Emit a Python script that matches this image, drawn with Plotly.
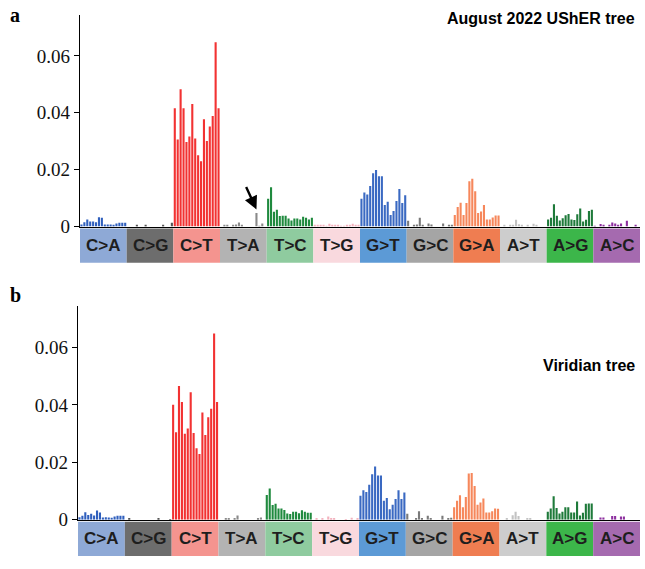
import plotly.graph_objects as go

mut_types = ["C>A", "C>G", "C>T", "T>A", "T>C", "T>G", "G>T", "G>C", "G>A", "A>T", "A>G", "A>C"]
bar_colors = ["#2f5fbd", "#555555", "#f23232", "#8a8a8a", "#1f8a3e", "#f3b1bd",
              "#3a69c2", "#7a7a7a", "#f6875b", "#c2c2c2", "#1e7a3a", "#8d2f9f"]
strip_colors = ["#8ea9d6", "#6d6d6d", "#f4948f", "#b3b3b3", "#8fcb9f", "#f9d9de",
                "#5c9ad6", "#a5a5a5", "#ef7d51", "#cdcdcd", "#3cb64a", "#a56aaf"]
y_tickvals = [0, 0.02, 0.04, 0.06]
y_ticktext = ["0", "0.02", "0.04", "0.06"]

# Panel a: August 2022 UShER tree (16 contexts per mutation type)
usher_CA = [0.0007, 0.0015, 0.0025, 0.0018, 0.0018, 0.0015, 0.0033, 0.0031, 0.0007, 0.0007, 0.0007, 0.0005, 0.0011, 0.0013, 0.0013, 0.0013]
usher_CG = [0, 0, 0, 0.0003, 0, 0, 0.0005, 0, 0, 0, 0, 0, 0.0005, 0, 0, 0.0013]
usher_CT = [0.0416, 0.0306, 0.0483, 0.0416, 0.0297, 0.0317, 0.0431, 0.0310, 0.0251, 0.0230, 0.0377, 0.0301, 0.0352, 0.0389, 0.0648, 0.0416]
usher_TA = [0, 0.0003, 0.0004, 0, 0.0006, 0.0007, 0.0014, 0.0004, 0, 0, 0, 0, 0.0048, 0.0002, 0.0011, 0]
usher_TC = [0.0098, 0.0138, 0.0052, 0.0059, 0.0037, 0.0038, 0.0038, 0.0028, 0.0021, 0.0028, 0.0028, 0.0025, 0.0034, 0.0031, 0.0025, 0.0031]
usher_TG = [0.0004, 0.0006, 0.0003, 0.0003, 0.0002, 0.0010, 0.0005, 0.0005, 0.0003, 0.0002, 0.0002, 0.0003, 0.0005, 0.0010, 0.0003, 0.0003]
usher_GT = [0.0098, 0.0120, 0.0113, 0.0143, 0.0187, 0.0199, 0.0177, 0.0177, 0.0076, 0.0087, 0.0041, 0.0055, 0.0090, 0.0132, 0.0083, 0.0110]
usher_GC = [0.0020, 0, 0.0003, 0.0007, 0.0031, 0.0003, 0, 0.0011, 0.0007, 0, 0, 0, 0.0011, 0, 0.0003, 0.0005]
usher_GA = [0.0041, 0.0069, 0.0084, 0.0041, 0.0083, 0.0159, 0.0168, 0.0124, 0.0048, 0.0053, 0.0076, 0.0025, 0.0025, 0.0032, 0.0039, 0.0039]
usher_AT = [0, 0.0003, 0, 0.0006, 0.0006, 0.0024, 0.0008, 0.0003, 0, 0.0006, 0, 0.0010, 0.0006, 0, 0, 0]
usher_AG = [0.0025, 0.0031, 0.0078, 0.0038, 0.0021, 0.0029, 0.0040, 0.0044, 0.0025, 0.0023, 0.0043, 0.0063, 0.0018, 0.0024, 0.0055, 0.0059]
usher_AC = [0.0002, 0, 0.0009, 0.0006, 0, 0.0003, 0.0014, 0.0011, 0.0006, 0.0011, 0, 0.0020, 0, 0, 0.0006, 0]

# Panel b: Viridian tree
virid_CA = [0.0009, 0.0014, 0.0026, 0.0017, 0.0021, 0.0015, 0.0032, 0.0025, 0.0008, 0.0009, 0.0008, 0.0007, 0.0011, 0.0014, 0.0014, 0.0014]
virid_CG = [0, 0.0003, 0, 0, 0, 0, 0, 0, 0, 0, 0, 0.0003, 0, 0, 0, 0.0002]
virid_CT = [0.0401, 0.0305, 0.0466, 0.0410, 0.0300, 0.0318, 0.0444, 0.0302, 0.0249, 0.0229, 0.0374, 0.0295, 0.0357, 0.0387, 0.0649, 0.0410]
virid_TA = [0, 0, 0.0003, 0.0004, 0, 0.0006, 0.0015, 0, 0, 0, 0, 0, 0, 0.0004, 0.0008, 0]
virid_TC = [0.0086, 0.0109, 0.0051, 0.0056, 0.0039, 0.0039, 0.0034, 0.0022, 0.0020, 0.0028, 0.0028, 0.0023, 0.0033, 0.0028, 0.0024, 0.0024]
virid_TG = [0, 0.0003, 0, 0.0003, 0, 0.0011, 0.0006, 0.0005, 0, 0, 0, 0.0002, 0, 0.0007, 0, 0.0003]
virid_GT = [0.0084, 0.0103, 0.0097, 0.0122, 0.0159, 0.0186, 0.0154, 0.0154, 0.0066, 0.0076, 0.0037, 0.0052, 0.0072, 0.0103, 0.0072, 0.0095]
virid_GC = [0.0021, 0, 0, 0.0003, 0.0030, 0.0005, 0, 0.0014, 0.0005, 0, 0, 0, 0.0014, 0, 0.0005, 0.0007]
virid_GA = [0.0044, 0.0066, 0.0085, 0.0044, 0.0079, 0.0161, 0.0163, 0.0118, 0.0052, 0.0060, 0.0074, 0.0025, 0.0025, 0.0030, 0.0039, 0.0038]
virid_AT = [0, 0, 0.0005, 0, 0.0016, 0.0028, 0.0013, 0, 0, 0.0005, 0.0005, 0, 0, 0, 0, 0]
virid_AG = [0.0028, 0.0039, 0.0082, 0.0041, 0.0022, 0.0028, 0.0044, 0.0044, 0.0025, 0.0025, 0.0064, 0.0015, 0.0024, 0.0056, 0.0057, 0.0057]
virid_AC = [0, 0, 0.0008, 0.0008, 0, 0, 0.0013, 0.0013, 0, 0.0011, 0.0011, 0, 0, 0, 0, 0]

usher_series = [usher_CA, usher_CG, usher_CT, usher_TA, usher_TC, usher_TG,
                usher_GT, usher_GC, usher_GA, usher_AT, usher_AG, usher_AC]
virid_series = [virid_CA, virid_CG, virid_CT, virid_TA, virid_TC, virid_TG,
                virid_GT, virid_GC, virid_GA, virid_AT, virid_AG, virid_AC]

W, H = 645, 569
NCTX = 16

fig = go.Figure()

panels = [
    dict(series=usher_series, xa="x", ya="y", xdom=[80 / W, 640 / W], ydom=[1 - 231 / H, 1 - 15 / H],
         strip=[1 - 268 / H, 1 - 233 / H]),
    dict(series=virid_series, xa="x2", ya="y2", xdom=[78 / W, 640 / W], ydom=[1 - 530 / H, 1 - 312 / H],
         strip=[1 - 567 / H, 1 - 532 / H]),
]

shapes = []
annotations = []
for p in panels:
    for k, (name, vals) in enumerate(zip(mut_types, p["series"])):
        xs = [k * NCTX + i for i in range(NCTX)]
        fig.add_trace(go.Bar(x=xs, y=vals, name=name, marker=dict(color=bar_colors[k], line=dict(width=0)),
                             width=0.72, xaxis=p["xa"], yaxis=p["ya"], showlegend=False))
        x0 = k * NCTX - 0.5
        x1 = (k + 1) * NCTX - 0.5
        shapes.append(dict(type="rect", xref=p["xa"], yref="paper", x0=x0, x1=x1,
                           y0=p["strip"][0], y1=p["strip"][1], fillcolor=strip_colors[k],
                           line=dict(width=0), layer="below"))
        annotations.append(dict(xref=p["xa"], yref="paper", x=(x0 + x1) / 2,
                                y=(p["strip"][0] + p["strip"][1]) / 2, text="<b>%s</b>" % name,
                                showarrow=False, font=dict(family="Liberation Sans", size=17, color="#1e1e1e"),
                                xanchor="center", yanchor="middle"))

axis_common_y = dict(range=[0, 0.0745], tickvals=y_tickvals, ticktext=y_ticktext, showline=True,
                     linecolor="black", linewidth=1.2, ticks="outside", ticklen=5, tickcolor="black",
                     showgrid=False, zeroline=False,
                     tickfont=dict(family="Liberation Serif", size=19, color="#111"))
axis_common_x = dict(range=[-0.5, 12 * NCTX - 0.5], showticklabels=False, ticks="", showgrid=False,
                     zeroline=False, showline=True, linecolor="black", linewidth=1.2)

fig.update_layout(
    width=W, height=H, autosize=False, margin=dict(l=0, r=0, t=0, b=0, pad=0),
    plot_bgcolor="white", paper_bgcolor="white", bargap=0.2,
    xaxis=dict(domain=panels[0]["xdom"], anchor="y", **axis_common_x),
    yaxis=dict(domain=panels[0]["ydom"], anchor="x", **axis_common_y),
    xaxis2=dict(domain=panels[1]["xdom"], anchor="y2", **axis_common_x),
    yaxis2=dict(domain=panels[1]["ydom"], anchor="x2", **axis_common_y),
    shapes=shapes,
)

# Panel letters and titles
annotations.append(dict(xref="paper", yref="paper", x=8 / W, y=1 - 2 / H, text="<b>a</b>", showarrow=False,
                        xanchor="left", yanchor="top", font=dict(family="Liberation Serif", size=20, color="black")))
annotations.append(dict(xref="paper", yref="paper", x=8 / W, y=1 - 288 / H, text="<b>b</b>", showarrow=False,
                        xanchor="left", yanchor="top", font=dict(family="Liberation Serif", size=20, color="black")))
annotations.append(dict(xref="paper", yref="paper", x=637 / W, y=1 - 8 / H, text="<b>August 2022 UShER tree</b>",
                        showarrow=False, xanchor="right", yanchor="top",
                        font=dict(family="Liberation Sans", size=16, color="black")))
annotations.append(dict(xref="paper", yref="paper", x=637 / W, y=1 - 362 / H, text="<b>Viridian tree</b>",
                        showarrow=False, xanchor="right", yanchor="top",
                        font=dict(family="Liberation Sans", size=16, color="black")))

# Arrow pointing at the highlighted T>A bar in panel a
arrow_idx = 3 * NCTX + 12
annotations.append(dict(xref="x", yref="y", x=arrow_idx, y=usher_TA[12] + 0.0012, ax=-11, ay=-24,
                        showarrow=True, arrowhead=2, arrowsize=1.1, arrowwidth=2.4, arrowcolor="black", text=""))

fig.update_layout(annotations=annotations)
fig.write_html("out.html", config={"displayModeBar": False, "responsive": False},
               post_script="document.body.style.margin='0px';document.body.style.overflow='hidden';")
